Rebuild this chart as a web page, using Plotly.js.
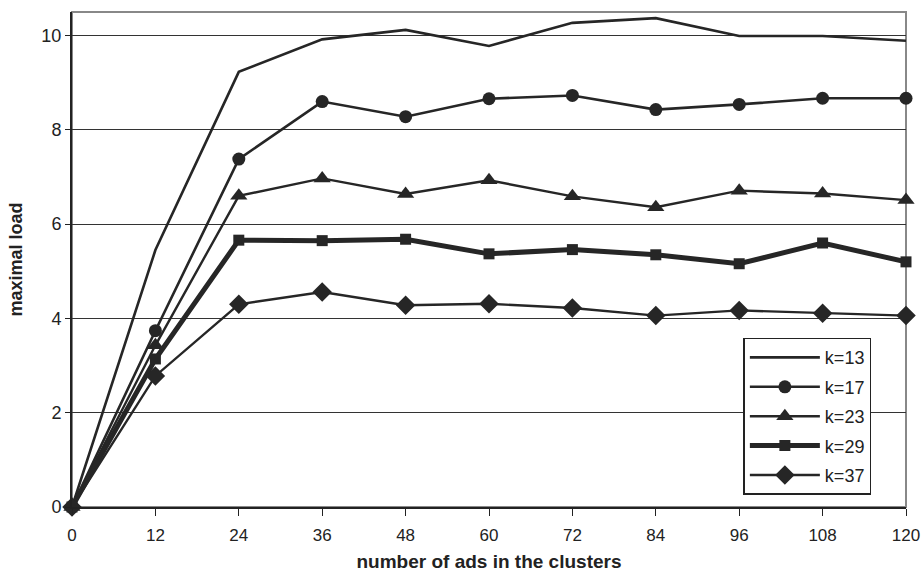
<!DOCTYPE html>
<html>
<head>
<meta charset="utf-8">
<script src="https://cdn.plot.ly/plotly-3.0.1.min.js"></script>
<style>html,body{margin:0;padding:0;background:#fff;}#chart{width:924px;height:573px;}</style>
</head>
<body>
<div id="chart"></div>
<script>
const xValues = [0, 12, 24, 36, 48, 60, 72, 84, 96, 108, 120];
const seriesNames = ["k=13", "k=17", "k=23", "k=29", "k=37"];
const k13 = [0, 5.45, 9.23, 9.92, 10.12, 9.78, 10.27, 10.37, 9.99, 9.99, 9.89];
const k17 = [0, 3.74, 7.38, 8.6, 8.28, 8.66, 8.73, 8.43, 8.54, 8.67, 8.67];
const k23 = [0, 3.43, 6.6, 6.97, 6.64, 6.93, 6.59, 6.36, 6.71, 6.65, 6.51];
const k29 = [0, 3.14, 5.66, 5.65, 5.68, 5.37, 5.46, 5.35, 5.16, 5.6, 5.2];
const k37 = [0, 2.78, 4.3, 4.56, 4.28, 4.31, 4.22, 4.06, 4.17, 4.11, 4.06];
const xTickLabels = ["0", "12", "24", "36", "48", "60", "72", "84", "96", "108", "120"];
const yTicks = [0, 2, 4, 6, 8, 10];

const col = "#262626";
const styles = [
  {w: 2.6, sym: "circle", size: 0, mode: "lines"},
  {w: 2.6, sym: "circle", size: 13, mode: "lines+markers"},
  {w: 2.4, sym: "triangle-up", size: 15, mode: "lines+markers"},
  {w: 5, sym: "square", size: 11, mode: "lines+markers"},
  {w: 2.4, sym: "diamond", size: 15, mode: "lines+markers"}
];
const allY = [k13, k17, k23, k29, k37];
const traces = allY.map((ys, i) => ({
  x: xValues, y: ys, name: seriesNames[i], type: "scatter",
  legendgroup: "g" + i,
  mode: styles[i].mode, cliponaxis: false,
  line: {color: col, width: styles[i].w},
  marker: {symbol: styles[i].sym, size: styles[i].size, color: col}
}));

const layout = {
  width: 924, height: 573,
  margin: {l: 72, r: 18, t: 12, b: 66},
  paper_bgcolor: "#fff", plot_bgcolor: "#fff",
  font: {family: "Liberation Sans, Arial, sans-serif", color: "#222", size: 17},
  showlegend: true,
  legend: {
    x: 0.805, y: 0.342, xanchor: "left", yanchor: "top",
    bgcolor: "#fff", bordercolor: "#222", borderwidth: 1.5,
    font: {size: 18, color: "#222"}, traceorder: "grouped", tracegroupgap: 3,
    itemwidth: 70, entrywidth: 165
  },
  xaxis: {
    range: [0, 120], tickvals: xValues, ticktext: xTickLabels,
    showgrid: false, zeroline: false,
    showline: true, linecolor: "#222", linewidth: 2,
    ticks: "outside", ticklen: 7, tickcolor: "#222", tickwidth: 1,
    tickfont: {size: 17}, ticklabelstandoff: 5,
    title: {text: "<b>number of ads in the clusters</b>", font: {size: 19}, standoff: 10}
  },
  yaxis: {
    range: [0, 10.5], tickvals: yTicks,
    showgrid: true, gridcolor: "#333", gridwidth: 1,
    zeroline: false,
    showline: true, linecolor: "#222", linewidth: 2,
    ticks: "outside", ticklen: 5, tickcolor: "#222",
    tickfont: {size: 18},
    title: {text: "<b>maximal load</b>", font: {size: 18}, standoff: 14}
  },
  shapes: [{
    type: "rect", xref: "paper", yref: "paper", x0: 0, x1: 1, y0: 0, y1: 1,
    line: {color: "#888", width: 2}, layer: "below"
  }]
};

Plotly.newPlot("chart", traces, layout, {displayModeBar: false, staticPlot: true});
</script>
</body>
</html>
